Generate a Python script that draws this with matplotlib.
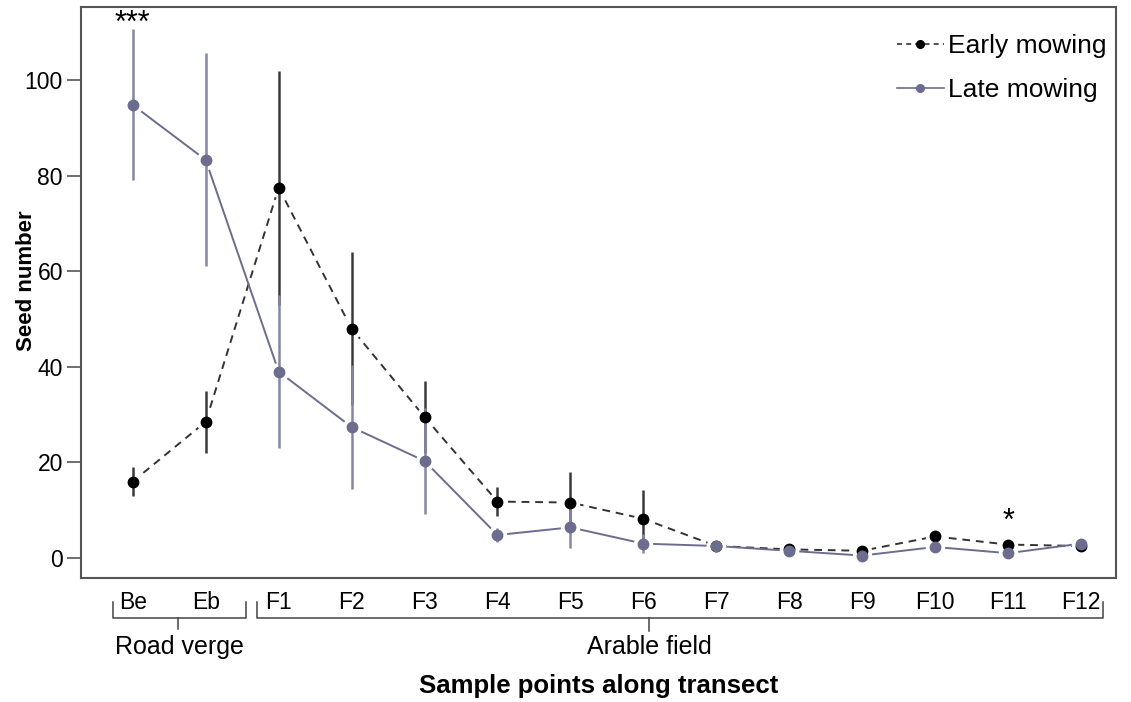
import matplotlib.pyplot as plt
from matplotlib import transforms

plt.rcParams['font.family'] = ['Liberation Sans', 'DejaVu Sans']

points = ["Be", "Eb", "F1", "F2", "F3", "F4", "F5", "F6", "F7", "F8", "F9",
          "F10", "F11", "F12"]
early_mean = [16.0, 28.5, 77.5, 48.0, 29.5, 11.8, 11.6, 8.2, 2.5, 1.8, 1.5,
              4.5, 2.8, 2.5]
early_se = [3.0, 6.5, 24.5, 16.0, 7.5, 3.0, 6.3, 6.0, 0.3, 0.5, 0.5, 1.2,
            0.8, 0.5]
late_mean = [94.8, 83.3, 39.0, 27.4, 20.3, 4.8, 6.4, 3.0, 2.5, 1.5, 0.5, 2.3,
             1.0, 3.0]
late_se = [15.8, 22.3, 16.0, 13.0, 11.0, 1.5, 4.3, 2.0, 0.3, 0.4, 0.4, 0.5,
           0.5, 0.5]

early_col = "#000000"
early_line = "#333333"
early_bar = "#3a3a3a"
late_col = "#6c6c8e"
late_bar = "#8585a5"


def draw_line(ax, x, y, col, ls):
    ax.plot(x, y, color=col, linestyle=ls, linewidth=1.4,
            dashes=(4, 3) if ls == "--" else (None, None), zorder=1)
    # white halo around points so the connecting line stops short
    ax.plot(x, y, "o", color="white", markersize=13, zorder=2)


def draw_points(ax, x, y, se, col, bar_col, line_col, ls, label):
    ax.errorbar(x, y, yerr=se, fmt="none", ecolor=bar_col, elinewidth=1.8,
                capsize=0, zorder=3)
    ax.plot(x, y, "o", color=col, markersize=7.5, zorder=4)
    ax.plot([], [], color=line_col, linestyle=ls, marker="o", markersize=5.5,
            markerfacecolor=col, markeredgecolor=col, linewidth=1.2,
            label=label, dashes=(3, 2.5) if ls == "--" else (None, None))


fig = plt.figure(figsize=(11.31, 7.02), dpi=100)
ax = fig.add_axes([0.0716, 0.1766, 0.9151, 0.8134])

x = list(range(len(points)))
draw_line(ax, x, early_mean, early_line, "--")
draw_line(ax, x, late_mean, late_col, "-")
draw_points(ax, x, early_mean, early_se, early_col, early_bar, early_line,
            "--", "Early mowing")
draw_points(ax, x, late_mean, late_se, late_col, late_bar, late_col,
            "-", "Late mowing")

ax.set_xlim(-0.71, 13.48)
ax.set_ylim(-4.2, 115.3)
ax.set_yticks([0, 20, 40, 60, 80, 100])
ax.set_xticks(x)
ax.set_xticklabels(points)
ax.tick_params(axis="y", direction="out", length=10, width=1.2,
               color="#555555", labelsize=16.5, pad=3)
ax.tick_params(axis="x", length=0, labelsize=16.5, pad=9)
for s in ax.spines.values():
    s.set_color("#555555")
    s.set_linewidth(1.5)

ax.text(-0.053, 0.52, "Seed number", transform=ax.transAxes, rotation=90,
        ha="center", va="center", fontsize=16, fontweight="bold")

# significance marks
ax.text(0, 111.8, "***", ha="center", va="center", fontsize=22)
ax.text(12, 7.6, "*", ha="center", va="center", fontsize=22)

# group brackets under the x axis
trans = transforms.blended_transform_factory(ax.transData, ax.transAxes)
bracket_kw = dict(color="#444444", linewidth=1.1, transform=trans,
                  clip_on=False)
y_end, y_line = -0.042, -0.070
ax.plot([-0.27, -0.27, 1.55, 1.55], [y_end, y_line, y_line, y_end],
        **bracket_kw)
ax.plot([0.62, 0.62], [y_line, -0.089], **bracket_kw)
ax.plot([1.71, 1.71, 13.3, 13.3], [y_end, y_line, y_line, y_end],
        **bracket_kw)
ax.plot([7.08, 7.08], [y_line, -0.092], **bracket_kw)
ax.text(0.64, -0.121, "Road verge", transform=trans, ha="center",
        va="center", fontsize=18)
ax.text(7.08, -0.121, "Arable field", transform=trans, ha="center",
        va="center", fontsize=18)
ax.text(0.5, -0.189, "Sample points along transect", transform=ax.transAxes,
        ha="center", va="center", fontsize=18.5, fontweight="bold")

ax.legend(loc="upper left", bbox_to_anchor=(0.783, 0.962), frameon=False,
          fontsize=19, handlelength=1.8, handletextpad=0.15, borderpad=0.2,
          borderaxespad=0, labelspacing=0.75)

fig.savefig("out.png", dpi=100)
